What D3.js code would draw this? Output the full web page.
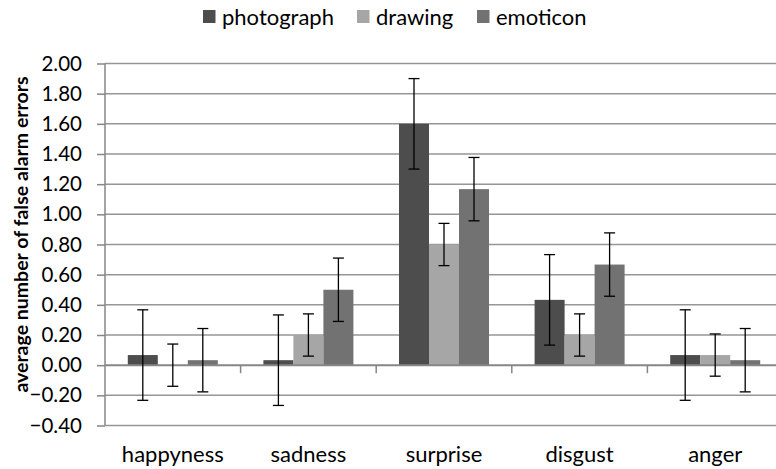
<!DOCTYPE html>
<html><head><meta charset="utf-8">
<script src="https://cdn.jsdelivr.net/npm/d3@7"></script>
<style>body{margin:0;background:#fff}svg{display:block}text{font-family:Lato,"Open Sans",sans-serif}</style>
</head><body>
<svg id="c" width="776" height="469"></svg>
<script>
const categories = ["happyness","sadness","surprise","disgust","anger"];
const series = ["photograph","drawing","emoticon"];
const photograph = [0.067,0.033,1.6,0.433,0.067];
const drawing = [0.0,0.2,0.8,0.2,0.067];
const emoticon = [0.033,0.5,1.167,0.667,0.033];
const errPhotograph = [0.30,0.30,0.30,0.30,0.30];
const errDrawing = [0.14,0.14,0.14,0.14,0.14];
const errEmoticon = [0.21,0.21,0.21,0.21,0.21];
const yTicks = [-0.4,-0.2,0,0.2,0.4,0.6,0.8,1.0,1.2,1.4,1.6,1.8,2.0];
const colors = {photograph:"#4d4d4d", drawing:"#a6a6a6", emoticon:"#727272"};

const values = {photograph, drawing, emoticon};
const errs = {photograph:errPhotograph, drawing:errDrawing, emoticon:errEmoticon};

const svg = d3.select("#c");
const pLeft = 105, pRight = 783, pTop = 63.5, pBottom = 425.5;
const y = d3.scaleLinear().domain([-0.4,2.0]).range([pBottom, pTop]);
const x0 = d3.scaleBand().domain(categories).range([pLeft, pRight]).padding(0);
const x1 = d3.scaleBand().domain(series).range([0, x0.bandwidth()]).paddingInner(0).paddingOuter(0.76);

// gridlines
svg.append("g").selectAll("line").data(yTicks.filter(t=>t!==0)).join("line")
  .attr("x1", pLeft).attr("x2", 776).attr("y1", d=>y(d)).attr("y2", d=>y(d))
  .attr("stroke", "#969696").attr("stroke-width", 1.5);

// y axis
const yAxis = d3.axisLeft(y).tickValues(yTicks).tickFormat(d3.format(".2f")).tickSize(8).tickPadding(15);
const ga = svg.append("g").attr("transform", `translate(${pLeft},0)`).call(yAxis);
ga.select(".domain").attr("stroke", "#868686").attr("stroke-width", 1.5).attr("d", `M0,${pTop}V${pBottom}`);
ga.selectAll(".tick line").attr("stroke", "#868686").attr("stroke-width", 1.5);
ga.selectAll(".tick text").attr("font-size", 20.5).attr("fill", "#000").style("font-family","Lato");

// bars
const g = svg.append("g");
categories.forEach((c,i)=>{
  series.forEach(s=>{
    const v = values[s][i];
    g.append("rect")
      .attr("x", x0(c)+x1(s)).attr("width", x1.bandwidth())
      .attr("y", y(Math.max(0,v))).attr("height", Math.abs(y(v)-y(0)))
      .attr("fill", colors[s]);
  });
});

// zero axis line + category ticks
svg.append("line").attr("x1", pLeft).attr("x2", 776).attr("y1", y(0)).attr("y2", y(0))
  .attr("stroke", "#868686").attr("stroke-width", 2);
const xAxis = d3.axisBottom(x0).tickSize(0);
svg.append("g").selectAll("line").data(categories.slice(1)).join("line")
  .attr("x1", d=>x0(d)).attr("x2", d=>x0(d)).attr("y1", y(0)).attr("y2", y(0)+8)
  .attr("stroke", "#868686").attr("stroke-width", 1.5);
const gx = svg.append("g").attr("transform", `translate(0,${pBottom})`).call(xAxis);
gx.select(".domain").remove();
gx.selectAll(".tick text").attr("font-size", 22).attr("fill", "#000").attr("dy", null).attr("y", 36).style("font-family","Lato");

// error bars
const eg = svg.append("g").attr("stroke", "#000").attr("stroke-width", 1.3);
categories.forEach((c,i)=>{
  series.forEach(s=>{
    const cx = x0(c)+x1(s)+x1.bandwidth()/2;
    const v = values[s][i], e = errs[s][i];
    const y1 = y(v+e), y2 = y(v-e);
    eg.append("line").attr("x1",cx).attr("x2",cx).attr("y1",y1).attr("y2",y2);
    eg.append("line").attr("x1",cx-5.5).attr("x2",cx+5.5).attr("y1",y1).attr("y2",y1);
    eg.append("line").attr("x1",cx-5.5).attr("x2",cx+5.5).attr("y1",y2).attr("y2",y2);
  });
});

// y title
svg.append("text").attr("transform", `translate(28,${(72+397)/2}) rotate(-90)`)
  .attr("text-anchor","middle").attr("font-weight","bold").attr("font-size",19.5)
  .text("average number of false alarm errors");

// legend
const legX = [203, 357, 477];
const lg = svg.append("g");
series.forEach((s,i)=>{
  lg.append("rect").attr("x", legX[i]).attr("y", 10).attr("width", 12.5).attr("height", 13).attr("fill", colors[s]);
  lg.append("text").attr("x", legX[i]+19).attr("y", 24.5).attr("font-size", 22).text(s);
});
</script>
</body></html>
